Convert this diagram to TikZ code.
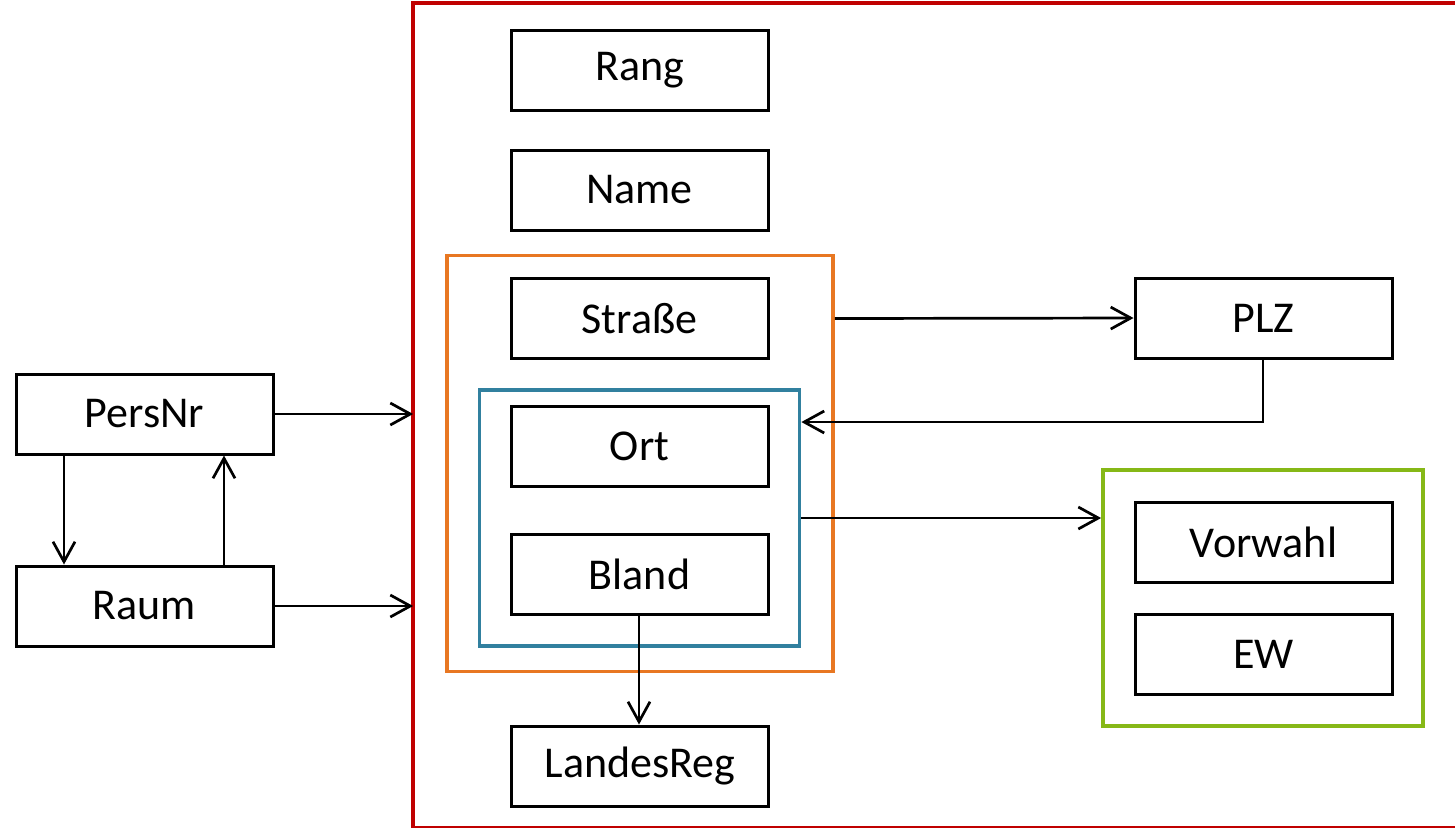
\documentclass[tikz,border=0pt]{standalone}
\usepackage{fontspec}
\setmainfont{Carlito}
\usetikzlibrary{arrows.meta}

\definecolor{frameRed}{HTML}{C00000}
\definecolor{frameOrange}{HTML}{E87722}
\definecolor{frameBlue}{HTML}{31809F}
\definecolor{frameGreen}{HTML}{86B817}

\tikzset{
  attr/.style={draw=black, line width=1.5pt, fill=white, rectangle,
    minimum width=128.5pt, minimum height=40pt, inner sep=0pt,
    font=\fontsize{22}{26}\selectfont},
  group/.style={rectangle, line width=1.9pt, inner sep=0pt},
  fd/.style={line width=1.35pt, -{Straight Barb[length=10pt,width=11pt,line width=1.35pt]}},
}

\begin{document}
\begin{tikzpicture}[x=0.5pt, y=-0.5pt]
  \useasboundingbox (0,0) rectangle (1455,827);

  % enclosing relation frame; its right side lies past the page edge
  \node[group, minimum width=540pt, minimum height=410.5pt]
    (rel) at (955,415.5) {};
  \draw[frameRed, line width=2pt]
    (rel.north east) -- (rel.north west) -- (rel.south west) -- (rel.south east);

  % nested groups
  \node[group, draw=frameOrange, minimum width=193pt, minimum height=208pt]
    (addr) at (640,463.5) {};
  \node[group, draw=frameBlue, minimum width=160pt, minimum height=128pt]
    (place) at (639.5,518) {};
  \node[group, draw=frameGreen, minimum width=160pt, minimum height=128pt]
    (phone) at (1263,598) {};

  % attributes
  \node[attr] (rang)    at (639.5,70.5)  {Rang};
  \node[attr] (name)    at (639.5,190)   {Name};
  \node[attr] (strasse) at (639.5,318.5) {Straße};
  \node[attr] (ort)     at (639.5,446)   {Ort};
  \node[attr] (bland)   at (639.5,574)   {Bland};
  \node[attr] (landes)  at (640,766)     {LandesReg};
  \node[attr] (persnr)  at (144.5,414)   {PersNr};
  \node[attr] (raum)    at (144.5,606)   {Raum};
  \node[attr] (plz)     at (1263.5,318)  {PLZ};
  \node[attr] (vorwahl) at (1263.5,542.5){Vorwahl};
  \node[attr] (ew)      at (1263.5,654)  {EW};

  % dependencies
  \draw[fd] (persnr.east) -- (persnr.east -| rel.west);
  \draw[fd] (raum.east) -- (raum.east -| rel.west);
  \draw[fd] (persnr.south -| 64,0) -- (raum.north -| 64,0);
  \draw[fd] (raum.north -| 224,0) -- (persnr.south -| 224,0);
  \draw[fd] (strasse.east -| addr.east) -- (plz.west);
  \coordinate (plzbend) at (1263,422);
  \draw[fd] (plz.south -| plzbend) -- (plzbend) -- (plzbend -| place.east);
  \draw[fd] (place.east |- 0,518) -- (phone.west |- 0,518);
  \draw[fd] (bland.south -| 639,0) -- (landes.north -| 639,0);
\end{tikzpicture}
\end{document}
